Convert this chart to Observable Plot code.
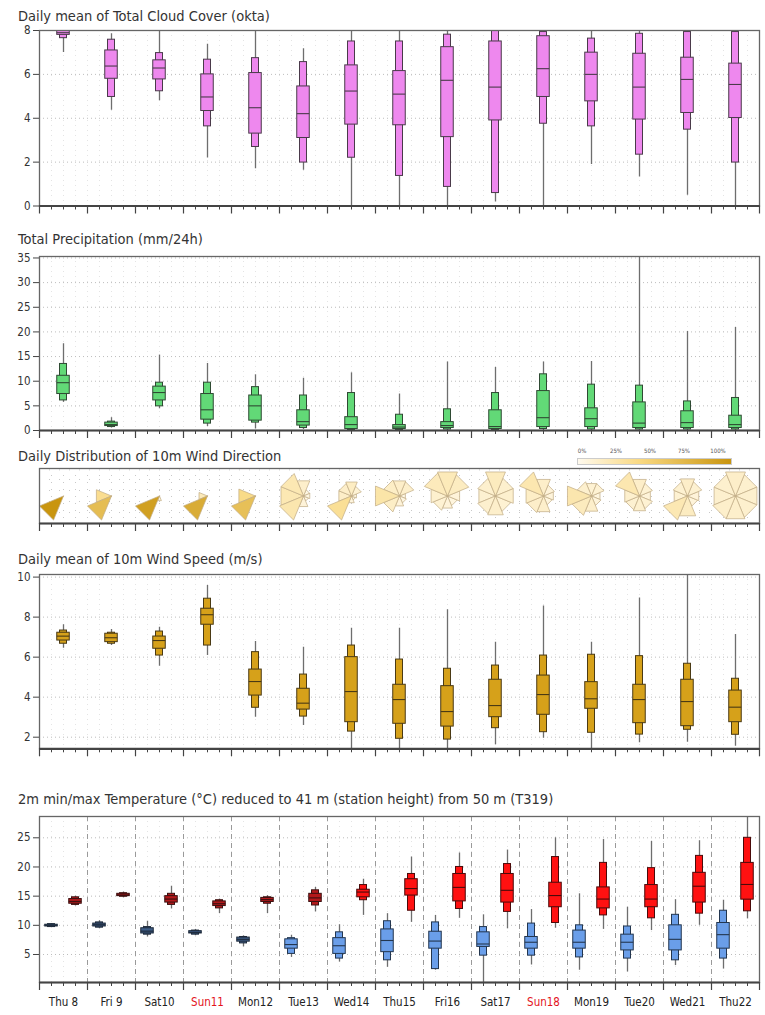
<!DOCTYPE html>
<html><head><meta charset="utf-8">
<script src="https://cdn.jsdelivr.net/npm/d3@7"></script>
<script src="https://cdn.jsdelivr.net/npm/@observablehq/plot@0.6"></script>
<style>
body{margin:0;background:#fff;}
#root{position:relative;width:765px;height:1015px;overflow:hidden;font-family:"DejaVu Sans Condensed","DejaVu Sans",sans-serif;}
.title{position:absolute;left:18px;font-size:14.5px;line-height:16px;color:#333;white-space:nowrap;}
.panel{position:absolute;left:0;}
.leg{position:absolute;font-size:6px;color:#555;transform:translateX(-50%);}
</style></head><body><div id="root"></div>
<script>
// ---------- DATA ----------
const days = ["Thu 8","Fri 9","Sat10","Sun11","Mon12","Tue13","Wed14","Thu15","Fri16","Sat17","Sun18","Mon19","Tue20","Wed21","Thu22"];
const sundays = ["Sun11","Sun18"];
// each row: [min, p10, p25, median, p75, p90, max]
const cloudCover = [
  [7.0,7.65,7.8,7.9,8,8,8],[4.36,4.97,5.8,6.38,7.09,7.58,7.85],[4.8,5.23,5.77,6.29,6.64,6.97,8],
  [2.19,3.63,4.33,4.97,6.0,6.67,7.37],[1.7,2.69,3.3,4.48,6.06,6.74,8],[1.63,1.98,3.1,4.21,5.45,6.56,7.17],
  [0,2.2,3.71,5.24,6.41,7.5,8],[0,1.37,3.68,5.1,6.15,7.5,8],[0,0.87,3.14,5.73,7.24,7.81,8],
  [0.18,0.59,3.9,5.42,7.5,8,8],[0,3.75,4.97,6.26,7.74,7.93,8],[1.89,3.63,4.77,6.0,6.99,7.63,8],
  [1.32,2.34,3.94,5.42,6.94,7.85,8],[0.49,3.48,4.24,5.77,6.76,7.93,8],[0,1.98,4.01,5.54,6.49,7.93,8]
];
const precipitation = [
  [5.7,6.1,7.4,9.7,11.1,13.5,17.6],[0.5,0.7,0.9,1.2,1.6,1.8,2.6],[4.4,4.9,6.1,7.7,8.9,9.7,15.3],
  [0.8,1.4,2.2,4.2,7.4,9.7,13.6],[0.3,1.6,2.0,5.0,7.1,8.8,11.3],[0.2,0.5,1.0,1.8,4.1,7.1,10.6],
  [0,0.1,0.3,1.2,2.7,7.6,11.7],[0,0.1,0.3,0.7,1.1,3.2,7.4],[0,0.2,0.5,1.0,1.7,4.3,13.9],
  [0,0.1,0.3,0.8,4.1,7.6,12.8],[0,0.3,0.7,2.6,8.0,11.4,13.9],[0,0.2,0.7,2.4,4.5,9.3,14.0],
  [0,0.2,0.5,1.5,5.7,9.1,36],[0,0.2,0.5,1.6,3.9,5.9,20.1],[0,0.2,0.5,1.2,3.0,6.6,20.9]
];
// wind direction fractions per sector: [N, NE, E, SE, S, SW, W, NW]
const windDirection = [
  [0,0,0,0,0,1,0,0],[0,0,0,0,0,0.65,0.35,0],[0,0,0,0,0.1,0.9,0,0],
  [0,0,0,0,0,0.8,0.2,0],[0,0,0,0,0,0.62,0.38,0],[0.13,0.04,0.04,0.03,0.08,0.24,0.22,0.22],
  [0.16,0.1,0.04,0.03,0.06,0.33,0.14,0.14],[0.14,0.13,0.04,0.05,0.08,0.15,0.26,0.15],[0.2,0.17,0.08,0.06,0.08,0.1,0.12,0.19],
  [0.18,0.12,0.12,0.1,0.13,0.12,0.11,0.12],[0.14,0.08,0.07,0.06,0.13,0.14,0.15,0.23],[0.1,0.1,0.06,0.07,0.13,0.18,0.24,0.12],
  [0.14,0.1,0.08,0.1,0.12,0.11,0.12,0.23],[0.14,0.11,0.08,0.07,0.17,0.22,0.1,0.11],[0.14,0.12,0.12,0.12,0.13,0.13,0.12,0.12]
];
const windLegendTicks = ["0%","25%","50%","75%","100%"];
const windSpeed = [
  [6.45,6.67,6.83,7.05,7.22,7.33,7.62],[6.58,6.67,6.75,6.97,7.17,7.22,7.38],[5.55,6.08,6.42,6.83,7.03,7.28,7.5],
  [6.08,6.58,7.62,8.12,8.42,8.92,9.58],[3.0,3.47,4.08,4.78,5.38,6.25,6.78],[2.58,3.03,3.38,3.7,4.42,5.13,6.5],
  [1.4,2.28,2.75,4.28,6.0,6.58,7.45],[1.4,1.92,2.67,3.88,4.62,5.88,7.45],[1.4,1.88,2.53,3.28,4.55,5.42,8.37],
  [1.62,2.45,3.0,3.58,4.87,5.58,6.75],[1.95,2.25,3.12,4.13,5.08,6.08,8.55],[1.4,2.22,3.42,3.92,4.75,6.12,6.75],
  [1.72,2.13,2.7,3.88,4.62,6.05,8.95],[1.75,2.37,2.55,3.78,4.87,5.67,10.2],[1.55,2.12,2.75,3.5,4.33,4.92,7.13]
];
const minTemperature = [
  [9.6,9.7,9.8,10.0,10.1,10.2,10.3],[9.4,9.6,9.8,10.1,10.3,10.5,10.8],[8.0,8.4,8.6,9.0,9.5,9.7,10.7],
  [8.2,8.4,8.6,8.8,9.0,9.1,9.3],[6.3,6.9,7.2,7.6,7.9,8.0,8.2],[4.5,5.1,6.0,6.7,7.6,7.8,8.3],
  [3.7,4.3,5.1,6.5,7.8,8.8,10.1],[2.8,4.0,5.4,7.4,9.3,10.7,12.0],[2.3,2.5,6.0,7.3,8.9,10.5,11.7],
  [0.2,4.8,6.3,6.8,8.8,9.7,11.8],[3.2,4.8,6.0,7.1,8.0,10.3,12.7],[2.3,4.5,6.0,7.1,9.1,10.0,15.4],
  [2.0,4.3,5.7,7.1,8.4,9.8,13.1],[3.1,4.0,5.7,7.6,10.0,11.8,14.4],[2.5,4.3,6.0,8.4,10.4,12.5,14.3]
];
const maxTemperature = [
  [13.3,13.5,13.7,14.1,14.5,14.8,15.0],[14.7,14.9,15.0,15.2,15.4,15.5,15.7],[12.8,13.5,13.9,14.5,15.0,15.4,16.7],
  [12.0,12.9,13.3,13.7,14.1,14.3,14.5],[12.0,13.7,14.0,14.4,14.7,14.8,15.1],[12.3,13.4,14.0,14.7,15.4,16.0,16.5],
  [11.7,14.3,14.8,15.7,16.1,16.9,17.9],[10.5,12.5,15.1,16.3,17.9,18.8,21.7],[11.2,12.8,14.1,16.5,18.8,20.0,22.4],
  [9.4,12.3,13.9,16.0,18.8,20.5,22.9],[9.5,10.4,13.1,15.1,17.3,21.7,25.0],[9.3,11.7,12.9,14.5,16.5,20.7,24.7],
  [9.1,11.2,13.1,14.5,16.9,19.8,24.4],[10.0,12.0,13.9,16.7,19.0,21.9,24.5],[11.1,12.4,14.4,17.0,20.7,25.0,29]
];

// ---------- HELPERS ----------
const FONT = "DejaVu Sans Condensed, DejaVu Sans, sans-serif";
const root = document.getElementById("root");
const PXDAY = 48; // 720px frame / 15 days
const MT = 8;
function rowsOf(arr, offset) {
  return arr.map((v, i) => ({i, name: days[i], x: i + offset,
    min: v[0], p10: v[1], p25: v[2], med: v[3], p75: v[4], p90: v[5], max: v[6]}));
}
function boxMarks(rows, fill, stroke = "#444") {
  const wN = 7 / PXDAY, wW = 12.5 / PXDAY;
  return [
    Plot.ruleX(rows, {x: "x", y1: "min", y2: "max", stroke: "#6e6e6e", strokeWidth: 1.3, clip: true}),
    Plot.rect(rows, {x1: d => d.x - wN / 2, x2: d => d.x + wN / 2, y1: "p10", y2: "p90", fill, stroke, strokeWidth: 1, clip: true}),
    Plot.rect(rows, {x1: d => d.x - wW / 2, x2: d => d.x + wW / 2, y1: "p25", y2: "p75", fill, stroke, strokeWidth: 1, clip: true}),
    Plot.ruleY(rows, {y: "med", x1: d => d.x - wW / 2, x2: d => d.x + wW / 2, stroke, strokeWidth: 1.1})
  ];
}
function xTicks() {
  return [
    Plot.axisX(d3.range(0, 15.01, 0.25), {anchor: "bottom", tickSize: 4, tickFormat: () => "", label: null, stroke: "#444"}),
    Plot.axisX(d3.range(0, 16), {anchor: "bottom", tickSize: 8, tickFormat: () => "", label: null, stroke: "#444", strokeWidth: 1.2})
  ];
}
function addTitle(text, top) {
  const d = document.createElement("div");
  d.className = "title"; d.style.top = top + "px"; d.textContent = text;
  root.appendChild(d);
}
function addPanel(svg, top) {
  svg.classList.add("panel"); svg.style.top = top + "px"; svg.style.position = "absolute";
  root.appendChild(svg);
}
function boxPanel({frameTop, frameBottom, domain, ticks, marks, mb = 12, extra = []}) {
  const plot = Plot.plot({
    width: 765, height: frameBottom - frameTop + MT + mb,
    marginLeft: 39, marginRight: 6, marginTop: MT, marginBottom: mb,
    style: {fontFamily: FONT, fontSize: "11.5px", color: "#333", background: "transparent"},
    x: {domain: [0, 15]},
    y: {domain},
    color: {type: "identity"},
    marks: [
      Plot.ruleX(d3.range(0.25, 15, 0.25), {stroke: "#e4e4e4", strokeDasharray: "1,4"}),
      Plot.ruleY(ticks, {stroke: "#bdbdbd", strokeDasharray: "1,3"}),
      ...extra,
      ...marks,
      Plot.frame({stroke: "#666", strokeWidth: 1.3}),
      Plot.ruleY([domain[0]], {stroke: "#444", strokeWidth: 2.2}),
      Plot.axisY(ticks, {anchor: "left", tickSize: 6, tickPadding: 3, fontSize: 11.5, label: null, stroke: "#444"}),
      ...xTicks()
    ]
  });
  addPanel(plot, frameTop - MT);
}

// ---------- PANEL 1: cloud ----------
addTitle("Daily mean of Total Cloud Cover (okta)", 8);
boxPanel({frameTop: 30, frameBottom: 205.5, domain: [0, 8], ticks: [0, 2, 4, 6, 8],
  marks: boxMarks(rowsOf(cloudCover, 0.5), "#ee88ee", "#4a3a4a")});

// ---------- PANEL 2: precipitation ----------
addTitle("Total Precipitation (mm/24h)", 231);
boxPanel({frameTop: 256, frameBottom: 430, domain: [0, 35.3], ticks: [0, 5, 10, 15, 20, 25, 30, 35],
  marks: boxMarks(rowsOf(precipitation, 0.5), "#62d977", "#2f4a33")});

// ---------- PANEL 3: wind direction ----------
addTitle("Daily Distribution of 10m Wind Direction", 448);
{
  const frameTop = 468, frameBottom = 523, mb = 12;
  const pxY = (frameBottom - frameTop) / 2, R = 26;
  const wedges = [];
  windDirection.forEach((fr, i) => {
    const fmax = d3.max(fr);
    fr.forEach((f, k) => {
      if (f <= 0) return;
      const r = R * Math.pow(f / fmax, 0.75);
      const a0 = (k * 45 - 22.5) * Math.PI / 180, a1 = (k * 45 + 22.5) * Math.PI / 180;
      const cx = i + 0.5, id = i * 8 + k;
      wedges.push({id, f, x: cx, y: 0});
      wedges.push({id, f, x: cx + r * Math.sin(a0) / PXDAY, y: r * Math.cos(a0) / pxY});
      wedges.push({id, f, x: cx + r * Math.sin(a1) / PXDAY, y: r * Math.cos(a1) / pxY});
      wedges.push({id, f, x: cx, y: 0});
    });
  });
  wedges.sort((a, b) => a.f - b.f || a.id - b.id);
  const plot = Plot.plot({
    width: 765, height: frameBottom - frameTop + MT + mb,
    marginLeft: 39, marginRight: 6, marginTop: MT, marginBottom: mb,
    style: {fontFamily: FONT, fontSize: "11px", background: "transparent"},
    x: {domain: [0, 15]},
    y: {domain: [-1, 1], axis: null},
    color: {type: "linear", domain: [0, 0.4, 1], range: ["#fffaee", "#f9d983", "#c9950f"]},
    marks: [
      Plot.ruleX(d3.range(0.25, 15, 0.25), {stroke: "#c8c8c8", strokeDasharray: "1,6"}),
      Plot.ruleY([-0.6, -0.2, 0.2, 0.6, 0.95], {stroke: "#c8c8c8", strokeDasharray: "1,9"}),
      Plot.line(wedges, {x: "x", y: "y", z: "id", fill: "f", stroke: "#c2ad86", strokeWidth: 0.8, strokeOpacity: 0.9}),
      Plot.frame({stroke: "#666", strokeWidth: 1.3}),
      Plot.ruleY([-1], {stroke: "#444", strokeWidth: 2.2}),
      ...xTicks()
    ]
  });
  addPanel(plot, frameTop - MT);
  // legend
  const bar = document.createElement("div");
  Object.assign(bar.style, {position: "absolute", left: "577px", top: "458px", width: "153px", height: "5px",
    background: "linear-gradient(to right, #fffaee, #f9d983 40%, #c9950f)", border: "0.5px solid #ccc"});
  root.appendChild(bar);
  windLegendTicks.forEach((t, k) => {
    const d = document.createElement("div");
    d.className = "leg"; d.textContent = t;
    d.style.left = (582 + k * 34) + "px"; d.style.top = "447px";
    root.appendChild(d);
  });
}

// ---------- PANEL 4: wind speed ----------
addTitle("Daily mean of 10m Wind Speed (m/s)", 551);
boxPanel({frameTop: 574, frameBottom: 748.3, domain: [1.42, 10.13], ticks: [2, 4, 6, 8, 10],
  marks: boxMarks(rowsOf(windSpeed, 0.5), "#d6a11a", "#4a3a14")});

// ---------- PANEL 5: temperature ----------
addTitle("2m min/max Temperature (°C) reduced to 41 m (station height) from 50 m (T319)", 791);
{
  const minRows = rowsOf(minTemperature, 0.25);
  const maxRows = rowsOf(maxTemperature, 0.75);
  const minDark = minRows.filter(d => d.i < 5), minBright = minRows.filter(d => d.i >= 5);
  const maxDark = maxRows.filter(d => d.i < 6), maxBright = maxRows.filter(d => d.i >= 6);
  const labels = days.map((name, i) => ({name, x: i + 0.5, sun: sundays.includes(name)}));
  boxPanel({frameTop: 816, frameBottom: 982, domain: [0.2, 28.65], ticks: [5, 10, 15, 20, 25], mb: 33,
    extra: [Plot.ruleX(d3.range(1, 15), {stroke: "#9a9a9a", strokeDasharray: "5,4"})],
    marks: [
      ...boxMarks(minDark, "#3e5d87", "#1e2a3a"),
      ...boxMarks(minBright, "#6a9ee9", "#23364f"),
      ...boxMarks(maxDark, "#b3191b", "#3a1010"),
      ...boxMarks(maxBright, "#ff1111", "#4a0a0a"),
      Plot.text(labels, {x: "x", text: "name", frameAnchor: "bottom", dy: 23, fontSize: 11.5,
        fill: d => d.sun ? "#e3131b" : "#222"})
    ]});
}
</script></body></html>
